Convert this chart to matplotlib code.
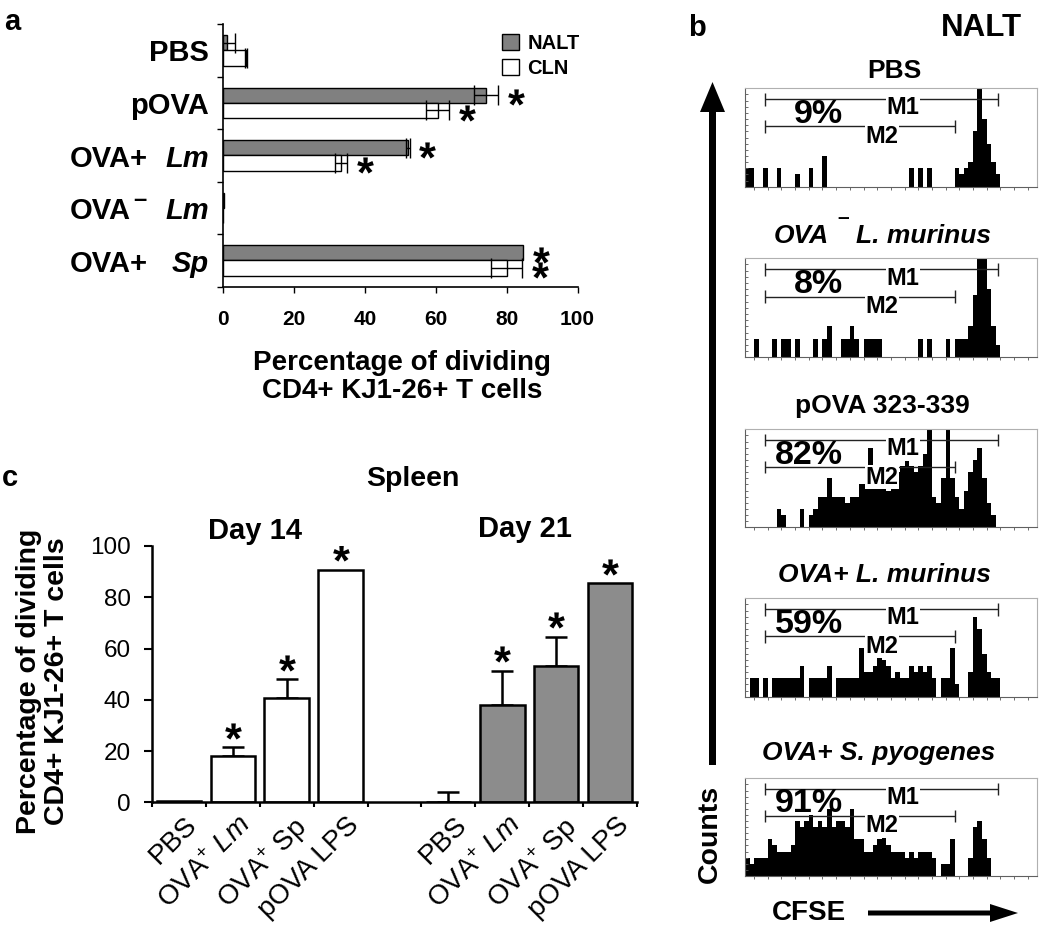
import numpy as np
import matplotlib
matplotlib.use("Agg")
import matplotlib.pyplot as plt
from matplotlib.patches import FancyArrow
from matplotlib.path import Path
from matplotlib.textpath import TextPath
from matplotlib.font_manager import FontProperties

plt.rcParams['font.family'] = ['Liberation Sans', 'DejaVu Sans']
plt.rcParams['mathtext.fontset'] = 'custom'
plt.rcParams['mathtext.rm'] = 'Liberation Sans'
plt.rcParams['mathtext.it'] = 'Liberation Sans:italic'
plt.rcParams['mathtext.bf'] = 'Liberation Sans:bold'

W, H = 1050, 939

# ---- panel a : NALT / CLN proliferation (horizontal bars)
a_groups = ['PBS', 'pOVA', 'OVA+ Lm', 'OVA- Lm', 'OVA+ Sp']
a_nalt = [1.0, 74.2, 52.1, 0.3, 84.7]
a_nalt_err = [2.3, 3.4, 0.5, 0.0, 0.0]
a_cln = [6.4, 60.5, 33.2, 0.0, 80.0]
a_cln_err = [0.3, 3.2, 1.8, 0.0, 4.3]
a_nalt_sig = [False, True, True, False, True]
a_cln_sig = [False, True, True, False, True]
a_ticks = [0, 20, 40, 60, 80, 100]

# ---- panel c : spleen, day 14 / day 21
c_labels = ['PBS', r'OVA$^{+}$ $\mathit{Lm}$', r'OVA$^{+}$ Sp', 'pOVA LPS']
c_day14 = [0.5, 18.2, 40.6, 90.6]
c_day14_err = [0.0, 3.3, 7.4, 0.0]
c_day21 = [0.0, 38.0, 53.3, 85.4]
c_day21_err = [4.1, 13.4, 11.3, 0.0]
c_day14_sig = [False, True, True, True]
c_day21_sig = [False, True, True, True]
c_ticks = [0, 20, 40, 60, 80, 100]

# ---- panel b : CFSE histograms (64 channels, counts)
hist_titles = ['PBS', 'OVA- L. murinus', 'pOVA 323-339', 'OVA+ L. murinus', 'OVA+ S. pyogenes']
hist_pct = ['9%', '8%', '82%', '59%', '91%']
h_pbs = [3,3,0,0,3,0,0,3,0,0, 0,2,0,0,3,0,0,5,0,0, 0,0,0,0,0,0,0,0,0,0,
         0,0,0,0,0,0,3,0,3,0, 3,0,0,0,0,0,3,2,3,4, 9,16,11,7,4,2,0,0,0,0, 0,0,0,0]
h_ovam = [0,0,3,0,0,0,3,0,3,3, 0,3,0,0,0,3,0,3,5,0, 0,3,3,5,3,0,3,3,3,3,
          0,0,0,0,0,0,0,0,3,0, 3,0,0,0,3,0,3,3,3,5, 10,16,16,11,5,2,0,0,0,0, 0,0,0,0]
h_pova = [0,0,0,0,0,0,0,3,2,0, 0,0,3,0,2,3,5,5,8,5, 5,5,4,5,5,7,7,13,8,7,
          7,6,7,9,10,12,10,9,10,12, 16,5,4,8,16,8,5,3,6,9, 11,13,8,4,2,0,0,0,0,0, 0,0,0,0]
h_olm = [0,3,3,0,3,0,3,3,3,3, 3,3,5,0,3,3,3,3,5,0, 3,3,3,3,3,8,4,4,5,7,
         6,5,3,4,3,3,5,4,5,4, 5,3,0,3,3,8,2,0,0,4, 13,11,7,4,3,3,0,0,0,0, 0,0,0,0]
h_spy = [3,2,3,3,3,6,5,4,4,4, 5,9,8,9,10,8,9,8,11,8, 9,9,8,11,6,6,4,4,5,6,
         7,5,4,4,4,3,4,3,4,4, 4,3,0,2,2,6,0,0,0,3, 8,9,6,3,0,0,0,0,0,0, 0,0,0,0]
hist_counts = [h_pbs, h_ovam, h_pova, h_olm, h_spy]
m1_gate = (4.4, 55.5)
m2_gate = (4.4, 46.0)

grey = '#808080'
grey_c = '#8c8c8c'


def box(l, t, r, b):
    return [l / W, 1 - b / H, (r - l) / W, (b - t) / H]


# asterisk marker centred on its own glyph
tp = TextPath((0, 0), '*', size=1, prop=FontProperties(family='Liberation Sans', weight='bold'))
verts = tp.vertices.copy()
for i, code in enumerate(tp.codes):
    if code == Path.CLOSEPOLY:
        verts[i] = verts[i - 1]
cx = (verts[:, 0].min() + verts[:, 0].max()) / 2
cy = (verts[:, 1].min() + verts[:, 1].max()) / 2
star = Path(verts - [cx, cy], tp.codes)

fig = plt.figure(figsize=(W / 100, H / 100), dpi=100)

# overlay in pixel coords for free text and arrows
ax0 = fig.add_axes([0, 0, 1, 1])
ax0.set_xlim(0, W)
ax0.set_ylim(H, 0)
ax0.axis('off')

# ================= panel a
ax_a = fig.add_axes(box(223.3, 24, 577.5, 286.7))
ax_a.set_facecolor('none')
ya = np.arange(len(a_groups)) + 0.5
bh = 0.29
nalt = np.array(a_nalt); cln = np.array(a_cln)
nerr = np.array(a_nalt_err); cerr = np.array(a_cln_err)
b1 = ax_a.barh(ya - bh / 2, nalt, height=bh, color=grey, edgecolor='black', lw=1.0)
b2 = ax_a.barh(ya + bh / 2, cln, height=bh, color='white', edgecolor='black', lw=1.0)
for vals, err, yy in [(nalt, nerr, ya - bh / 2), (cln, cerr, ya + bh / 2)]:
    k = err > 0
    ax_a.errorbar(vals[k], yy[k], xerr=err[k], fmt='none', ecolor='black',
                  elinewidth=1.0, capsize=7, capthick=1.0)
for vals, err, yy, sig in [(nalt, nerr, ya - bh / 2, a_nalt_sig), (cln, cerr, ya + bh / 2, a_cln_sig)]:
    k = np.array(sig)
    ax_a.plot(vals[k] + err[k] + 5.0, yy[k] + 0.04, ls='none', marker=star, ms=12, color='black', mew=0)
ax_a.set_xlim(0, 100)
ax_a.set_ylim(5, 0)
ax_a.set_yticks(np.arange(6))
ax_a.set_yticklabels([])
ax_a.set_xticks(a_ticks)
ax_a.set_xticklabels([str(t) for t in a_ticks], fontsize=15, fontweight='bold')
ax_a.tick_params(axis='y', length=4, width=1.0, direction='out')
ax_a.tick_params(axis='x', length=4, width=1.0, direction='out', pad=13)
for s in ['top', 'right']:
    ax_a.spines[s].set_visible(False)
for s in ['left', 'bottom']:
    ax_a.spines[s].set_linewidth(1.2)

tr = ax_a.get_yaxis_transform()
def fx(px):
    return (px - 223.3) / (577.5 - 223.3)
lab_kw = dict(transform=tr, va='center', fontsize=21, fontweight='bold')
for yy, name in zip(ya + 0.06, a_groups):
    if ' ' not in name:
        ax_a.text(fx(209), yy, name, ha='right', **lab_kw)
        continue
    pre, sp = name.split(' ')
    ax_a.text(fx(209), yy, sp, ha='right', fontstyle='italic', **lab_kw)
    if pre.endswith('-'):
        ax_a.text(fx(131), yy, 'OVA', ha='right', **lab_kw)
        ax_a.text(fx(140), yy - 0.22, '\u2013', ha='center', transform=tr, va='center',
                  fontsize=17, fontweight='bold')
    else:
        ax_a.text(fx(148), yy, pre, ha='right', **lab_kw)

ax_a.legend([b1, b2], ['NALT', 'CLN'], loc='upper left',
            bbox_to_anchor=(502 / W, 1 - 34 / H), bbox_transform=fig.transFigure,
            frameon=False, prop=FontProperties(family='Liberation Sans', weight='bold', size=14.5),
            handlelength=0.85, handleheight=0.85, handletextpad=0.4, labelspacing=0.3,
            borderpad=0, borderaxespad=0)

ax0.text(402, 377, 'Percentage of dividing\nCD4+ KJ1-26+ T cells', ha='center', va='center',
         fontsize=20, fontweight='bold', linespacing=1.1)

# ================= panel c
ax_c = fig.add_axes(box(151.7, 546, 637.3, 802.3))
ax_c.set_facecolor('none')
p14 = np.arange(4)
p21 = np.arange(5, 9)
bw = 0.82
for pos, vals, err, sig, col in [(p14, c_day14, c_day14_err, c_day14_sig, 'white'),
                                 (p21, c_day21, c_day21_err, c_day21_sig, grey_c)]:
    vals = np.array(vals); err = np.array(err); sig = np.array(sig)
    ax_c.bar(pos, vals, width=bw, color=col, edgecolor='black', lw=1.8, zorder=2)
    k = err > 0
    ax_c.errorbar(pos[k], vals[k], yerr=[np.zeros(k.sum()), err[k]], fmt='none', ecolor='black',
                  elinewidth=1.8, capsize=8, capthick=1.8, zorder=1)
    ax_c.plot(pos[sig], vals[sig] + err[sig] + 6.5, ls='none', marker=star, ms=12, color='black', mew=0)
    for p, lab in zip(pos, c_labels):
        ax_c.annotate(lab, xy=(p, 0), xycoords=ax_c.get_xaxis_transform(), xytext=(4, -7),
                      textcoords='offset points', rotation=45, rotation_mode='anchor',
                      ha='right', va='top', fontsize=20)
ax_c.set_xlim(-0.5, 8.5)
ax_c.set_ylim(0, 100)
ax_c.set_yticks(c_ticks)
ax_c.set_yticklabels([str(t) for t in c_ticks], fontsize=17.5)
ax_c.set_xticks(np.arange(-0.5, 9, 1))
ax_c.set_xticklabels([])
ax_c.tick_params(axis='y', length=6, width=1.5, pad=9)
ax_c.tick_params(axis='x', length=3.6, width=1.5)
for s in ['top', 'right']:
    ax_c.spines[s].set_visible(False)
for s in ['left', 'bottom']:
    ax_c.spines[s].set_linewidth(1.8)

ax0.text(43, 681, 'Percentage of dividing\nCD4+ KJ1-26+ T cells', rotation=90, ha='center',
         va='center', fontsize=20.5, fontweight='bold', linespacing=1.1)
ax0.text(413, 479, 'Spleen', ha='center', va='center', fontsize=20.5, fontweight='bold')
ax0.text(255, 531, 'Day 14', ha='center', va='center', fontsize=21, fontweight='bold')
ax0.text(525, 529, 'Day 21', ha='center', va='center', fontsize=21, fontweight='bold')

# ================= panel b
tops = [88.3, 258.3, 429.3, 598.3, 778.3]
bots = [186.7, 357.3, 527.3, 696.7, 876.0]
title_x = [894, 887, 882.5, 884, 879]
title_base = [78.3, 243, 413, 581.7, 760]
for i, counts in enumerate(hist_counts):
    ax = fig.add_axes(box(745, tops[i], 1036.7, bots[i]))
    ax.set_facecolor('none')
    ax.bar(np.arange(len(counts)) + 0.5, counts, width=1.0, color='black', lw=0)
    ax.set_xlim(0, 64)
    ax.set_ylim(0, 16)
    for (g0, g1), yg in [(m1_gate, 14.2), (m2_gate, 9.8)]:
        ax.hlines(yg, g0, g1, color='#222222', lw=1.0)
        ax.vlines([g0, g1], yg - 1, yg + 1, color='#222222', lw=1.0)
    lab = dict(ha='center', va='center', fontsize=17, fontweight='bold',
               bbox=dict(facecolor='white', edgecolor='none', pad=0.5))
    ax.text(34.7, 12.8, 'M1', **lab)
    ax.text(30.1, 8.2, 'M2', **lab)
    ax.text(21.5, 11.8, hist_pct[i], ha='right', va='center', fontsize=24.5, fontweight='bold')
    ax.set_yticks(np.arange(1, 16))
    ax.set_xticks(np.arange(2, 64, 3))
    ax.tick_params(axis='y', direction='in', length=2.5, width=0.6, color='#555555', labelleft=False)
    ax.tick_params(axis='x', direction='out', length=2.5, width=0.6, color='#555555', labelbottom=False)
    for s in ['top', 'right']:
        ax.spines[s].set_color('#b0b0b0')
        ax.spines[s].set_linewidth(0.8)
    for s in ['left', 'bottom']:
        ax.spines[s].set_color('#606060')
        ax.spines[s].set_linewidth(0.8)

    t = hist_titles[i]
    if t.startswith('OVA'):
        if t.startswith('OVA-'):
            ax0.text(829, title_base[i], 'OVA', ha='right', va='baseline', fontsize=19,
                     fontweight='bold', fontstyle='italic')
            ax0.text(843, title_base[i] - 20, '\u2013', ha='center', va='baseline', fontsize=15,
                     fontweight='bold')
            ax0.text(856, title_base[i], t.split(' ', 1)[1], ha='left', va='baseline', fontsize=19,
                     fontweight='bold', fontstyle='italic')
        else:
            ax0.text(title_x[i], title_base[i], t, ha='center', va='baseline', fontsize=19,
                     fontweight='bold', fontstyle='italic')
    else:
        ax0.text(title_x[i], title_base[i], t, ha='center', va='baseline', fontsize=19,
                 fontweight='bold')

ax0.text(981, 28, 'NALT', ha='center', va='center', fontsize=22.5, fontweight='bold')
ax0.add_patch(FancyArrow(712.5, 765, 0, -683, width=7, head_width=25, head_length=30,
                         length_includes_head=True, color='black', lw=0))
ax0.text(710, 834, 'Counts', rotation=90, ha='center', va='center', fontsize=20.5, fontweight='bold')
ax0.text(809, 913, 'CFSE', ha='center', va='center', fontsize=20, fontweight='bold')
ax0.add_patch(FancyArrow(868, 913, 150, 0, width=5, head_width=18, head_length=28,
                         length_includes_head=True, color='black', lw=0))

# panel letters
ax0.text(12, 22, 'a', ha='center', va='center', fontsize=21, fontweight='bold')
ax0.text(697, 28, 'b', ha='center', va='center', fontsize=21, fontweight='bold')
ax0.text(10, 478, 'c', ha='center', va='center', fontsize=21, fontweight='bold')

fig.savefig('out.png', dpi=100)
